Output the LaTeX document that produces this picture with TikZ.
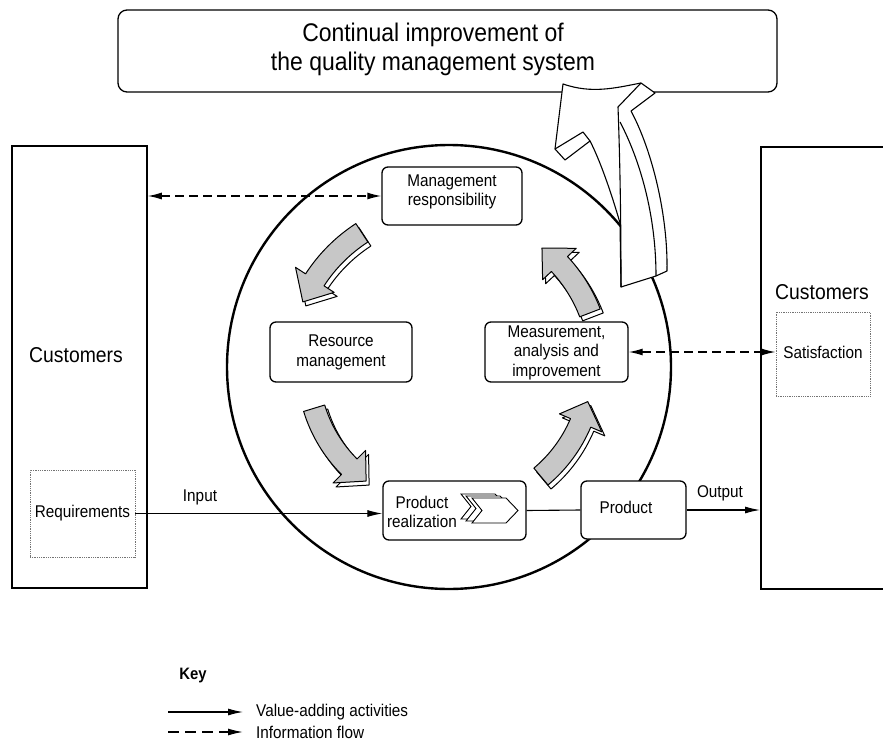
\documentclass[tikz,border=0pt]{standalone}
\usepackage{fontspec}
\setmainfont{Liberation Sans}[FakeStretch=0.9]
\usetikzlibrary{arrows.meta}
\newcommand\grayarrow[3]{%
  \begin{scope}[shift={(449,367)}]
   \foreach \dx/\dy/\fc in {3/4/white, 0/0/black!22} {
   \draw[line width=1pt, fill=\fc, line join=round, shift={(\dx,\dy)}]
     ({#2}:{#1+11}) arc[start angle={#2}, end angle={#3+9}, radius={#1+11}]
     -- ({#3+9}:{#1+23}) -- ({#3}:{#1}) -- ({#3+9}:{#1-23}) -- ({#3+9}:{#1-11})
     arc[start angle={#3+9}, end angle={#2}, radius={#1-11}] -- cycle;
   }
  \end{scope}}
\newcommand\chevshape[2]{%
  \draw[fill=white, line width=0.9pt, line join=miter] (#1,#2) -- ++(34,0) -- ++(12,12.5) -- ++(-12,12.5) -- ++(-34,0) -- ++(10,-12.5) -- cycle;}
\begin{document}
\begin{tikzpicture}[x=1pt,y=-1pt,
  pbox/.style={draw, line width=1.3pt, rounded corners=6pt, fill=white, inner sep=0pt},
  txt/.style={font=\fontsize{17}{19.5}\selectfont, align=center, inner sep=0pt},
  cust/.style={draw, line width=1.5pt, inner sep=0pt},
  dotbox/.style={draw=black!55, densely dotted, line width=0.8pt, inner sep=0pt},
  flow/.style={line width=1.1pt, -{Latex[length=15pt,width=7pt]}},
  info/.style={line width=1.3pt, dash pattern=on 9pt off 5pt, {Latex[length=14pt,width=7pt]}-{Latex[length=14pt,width=7pt]}},
]
\useasboundingbox (0,0) rectangle (883,749);
\fill[white] (0,0) rectangle (883,749);

% title
\node[pbox, rounded corners=9pt, minimum width=659pt, minimum height=82pt] (title) at (447.5,51) {};
\node[font=\fontsize{25.5}{29}\selectfont, align=center, inner sep=0pt] (titletxt) at (433,49) {Continual improvement of\\the quality management system};

% circle
\draw[line width=2.4pt] (449,367) circle[radius=222];

% customers
\node[cust, minimum width=135pt, minimum height=442pt] (custL) at (79.5,367) {};
\node[font=\fontsize{21.5}{23}\selectfont, inner sep=0pt] (custLtxt) at (76,355) {Customers};
\node[cust, minimum width=140pt, minimum height=442pt, anchor=north west] (custR) at (760,146) {};
\node[font=\fontsize{21.5}{23}\selectfont, inner sep=0pt] (custRtxt) at (822,292) {Customers};
\node[dotbox, minimum width=105pt, minimum height=87pt] (req) at (82.5,513.5) {};
\node[txt] (reqtxt) at (82.5,513) {Requirements};
\node[dotbox, minimum width=94pt, minimum height=84pt] (sat) at (823,354) {};
\node[txt] (sattxt) at (823,352) {Satisfaction};

% gray process arrows
\grayarrow{160}{237}{204}
\grayarrow{151}{-21}{-52}
\grayarrow{141}{163}{126}
\grayarrow{143}{50}{14}

% process boxes
\node[pbox, minimum width=140pt, minimum height=58pt] (mgmt) at (452,196) {};
\node[txt] (mgmttxt) at (452,192) {Management\\responsibility};
\node[pbox, minimum width=142pt, minimum height=60pt] (res) at (341,352) {};
\node[txt] (restxt) at (341,352.5) {Resource\\management};
\node[pbox, minimum width=143pt, minimum height=60pt] (meas) at (556.5,352) {};
\node[txt] (meastxt) at (556.5,352.5) {Measurement,\\analysis and\\improvement};
\node[pbox, minimum width=143pt, minimum height=59pt] (pr) at (454.5,510.5) {};
\node[txt] (prtxt) at (422,512) {Product\\realization};
\chevshape{461}{494}
\chevshape{466}{496}
\chevshape{472}{498}
\node[pbox, minimum width=105pt, minimum height=58pt] (prod) at (633.5,510) {};
\node[txt] (prodtxt) at (626,507) {Product};

% connectors
\draw[flow] (req.east) -- (req.east -| pr.west);
\node[txt] (input) at (200,497) {Input};
\draw[line width=1.1pt] (pr.east) -- (prod.west);
\draw[flow] (prod.east) -- (prod.east -| custR.west);
\node[txt] (output) at (720,493) {Output};
\draw[info] (custL.east |- mgmt.west) -- (mgmt.west);
\draw[info] (meas.east) -- (meas.east -| sat.west);

% big improvement arrow
\draw[fill=white, line width=1.1pt, line join=round]
 (563,84) .. controls (592,94) and (615,88) .. (641,83)
 -- (655,93) -- (631,111)
 .. controls (652,150) and (668,215) .. (667,271)
 -- (656,276) -- (621,287) -- (620,223)
 .. controls (612,195) and (600,160) .. (590,141)
 -- (565,160) -- (555,149) -- cycle;
\draw[line width=1.1pt, line join=round] (555,149) -- (583,132) -- (590,141);
\draw[line width=1.1pt, line join=round] (641,83) -- (618,107) .. controls (620,160) and (621,220) .. (621,287);
\draw[line width=1.1pt] (620,122) .. controls (640,160) and (656,215) .. (656,276);

% key
\node[font=\bfseries\fontsize{16.5}{18}\selectfont, inner sep=0pt] (key) at (193,676) {Key};
\coordinate (k1a) at (168,712);
\coordinate (k1b) at (243,712);
\draw[flow] (k1a) -- (k1b);
\node[txt, anchor=west] (k1t) at (256,712) {Value-adding activities};
\coordinate (k2a) at (168,732);
\coordinate (k2b) at (243,732);
\draw[line width=1.3pt, dash pattern=on 11pt off 6pt, -{Latex[length=15pt,width=7pt]}] (k2a) -- (k2b);
\node[txt, anchor=west] (k2t) at (256,732) {Information flow};
\end{tikzpicture}
\end{document}
